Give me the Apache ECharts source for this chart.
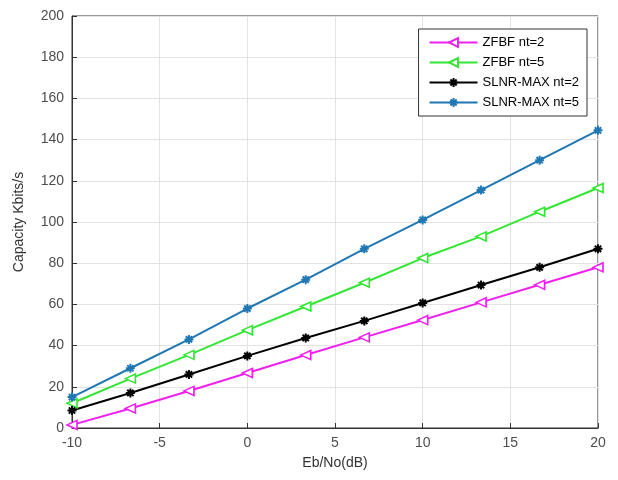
<!DOCTYPE html>
<html>
<head>
<meta charset="utf-8">
<script src="https://cdn.jsdelivr.net/npm/echarts@6/dist/echarts.min.js"></script>
<style>
  html, body { margin: 0; padding: 0; background: #fff; }
  #chart { width: 618px; height: 480px; }
</style>
</head>
<body>
<div id="chart"></div>
<script>
// Eb/No points (dB)
const xData = [-10, -6.67, -3.33, 0, 3.33, 6.67, 10, 13.33, 16.67, 20];
const zfbf2 = [1.5, 9.5, 18, 26.7, 35.4, 44, 52.4, 61, 69.5, 78];
const zfbf5 = [12, 24, 35.5, 47.5, 59, 70.5, 82.5, 93, 105, 116.5];
const slnr2 = [8.5, 17, 26, 35, 43.7, 52, 60.7, 69.4, 78, 87];
const slnr5 = [15, 29, 43, 58, 72, 87, 101, 115.5, 130, 144.5];
const seriesNames = ["ZFBF nt=2", "ZFBF nt=5", "SLNR-MAX nt=2", "SLNR-MAX nt=5"];

const star = "path://M0,5L10,5M5,0L5,10M1.5,1.5L8.5,8.5M8.5,1.5L1.5,8.5";
const font = "Liberation Sans";

function pairs(ys) {
  return xData.map((x, i) => [x, ys[i]]);
}

function mk(name, ys, color, symbol) {
  const isStar = symbol === star;
  return {
    name: name,
    type: "line",
    data: pairs(ys),
    symbol: symbol,
    symbolSize: isStar ? 9 : [9, 10],
    symbolRotate: isStar ? 0 : 90,
    showAllSymbol: true,
    lineStyle: { color: color, width: 2 },
    itemStyle: {
      color: isStar ? color : "#fff",
      borderColor: color,
      borderWidth: isStar ? 2 : 1.6
    },
    emphasis: { disabled: true },
    z: 3
  };
}

const chart = echarts.init(document.getElementById("chart"));
chart.setOption({
  backgroundColor: "#fff",
  animation: false,
  grid: {
    left: 72,
    right: 20,
    top: 16,
    bottom: 52,
    show: true,
    borderColor: "#333",
    borderWidth: 1
  },
  legend: {
    orient: "vertical",
    top: 29,
    right: 31,
    padding: [7, 8, 7, 10],
    itemGap: 7,
    itemWidth: 48,
    itemHeight: 11,
    backgroundColor: "#fff",
    borderColor: "#333",
    borderWidth: 1,
    textStyle: { fontFamily: font, fontSize: 13, color: "#000" },
    data: seriesNames
  },
  xAxis: {
    type: "value",
    min: -10,
    max: 20,
    interval: 5,
    name: "Eb/No(dB)",
    nameLocation: "middle",
    nameGap: 28,
    nameTextStyle: { fontFamily: font, fontSize: 14, color: "#333" },
    axisLine: { onZero: false, lineStyle: { color: "#333" } },
    axisTick: { inside: true, length: 5, lineStyle: { color: "#333" } },
    axisLabel: { fontFamily: font, fontSize: 14, color: "#4d4d4d", margin: 8 },
    splitLine: { show: true, lineStyle: { color: "#e3e3e3" } }
  },
  yAxis: {
    type: "value",
    min: 0,
    max: 200,
    interval: 20,
    name: "Capacity Kbits/s",
    nameLocation: "middle",
    nameGap: 46,
    nameTextStyle: { fontFamily: font, fontSize: 14, color: "#333" },
    axisLine: { show: true, onZero: false, lineStyle: { color: "#333" } },
    axisTick: { show: true, inside: true, length: 5, lineStyle: { color: "#333" } },
    axisLabel: { fontFamily: font, fontSize: 14, color: "#4d4d4d", margin: 8 },
    splitLine: { show: true, lineStyle: { color: "#e3e3e3" } }
  },
  series: [
    mk(seriesNames[0], zfbf2, "#f020f0", "triangle"),
    mk(seriesNames[1], zfbf5, "#33e633", "triangle"),
    mk(seriesNames[2], slnr2, "#000000", star),
    mk(seriesNames[3], slnr5, "#1f77b4", star)
  ]
});
</script>
</body>
</html>
